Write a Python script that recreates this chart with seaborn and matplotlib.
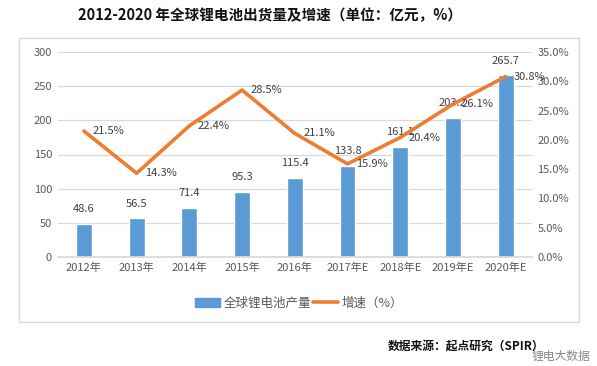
import matplotlib
matplotlib.use("Agg")
import matplotlib.pyplot as plt
import matplotlib.patches as mpatches
from matplotlib.lines import Line2D
import seaborn as sns
import pandas as pd

years = ["2012年", "2013年", "2014年", "2015年", "2016年", "2017年E", "2018年E", "2019年E", "2020年E"]
output = [48.6, 56.5, 71.4, 95.3, 115.4, 133.8, 161.1, 203.2, 265.7]
growth = [21.5, 14.3, 22.4, 28.5, 21.1, 15.9, 20.4, 26.1, 30.8]
left_ticks = [0, 50, 100, 150, 200, 250, 300]
right_ticks = [0, 5, 10, 15, 20, 25, 30, 35]

sns.set_theme(style="white")
plt.rcParams['font.family'] = ['Noto Sans CJK SC', 'DejaVu Sans']

BLUE = "#5B9BD5"
ORANGE = "#ED7D31"
GRAY = "#595959"
GRID = "#D9D9D9"

df = pd.DataFrame({"year": years, "output": output, "growth": growth})

fig = plt.figure(figsize=(5.97, 3.66), dpi=100)
# outer chart box
fig.patches.append(mpatches.Rectangle((19/597, 1-322/366), 560/597, 284/366,
                                      transform=fig.transFigure, fill=False,
                                      edgecolor=GRID, linewidth=1.0))

ax = fig.add_axes([57.6/597, 1-257/366, 474.4/597, 205/366])
sns.barplot(data=df, x="year", y="output", color=BLUE, width=0.3, ax=ax,
            saturation=1, zorder=2)
ax.set_ylim(0, 300)
ax.set_yticks(left_ticks)
ax.set_xlim(-0.5, len(years)-0.5)
ax.grid(axis="y", color=GRID, linewidth=0.9, zorder=0)
ax.set_axisbelow(True)
for s in ax.spines.values():
    s.set_visible(False)
ax.spines["bottom"].set_visible(True)
ax.spines["bottom"].set_color(GRID)
ax.tick_params(axis="both", length=0, labelsize=8, colors=GRAY, pad=4)
ax.set_xlabel("")
ax.set_ylabel("")
for i, v in enumerate(output):
    ax.annotate(f"{v}", (i, v), xytext=(0, 7), textcoords="offset points",
                ha="center", va="bottom", fontsize=8, color="#404040")

ax2 = ax.twinx()
sns.lineplot(data=df, x="year", y="growth", color=ORANGE, linewidth=2.6, ax=ax2,
             sort=False)
ax2.set_ylim(0, 35)
ax2.set_yticks(right_ticks)
ax2.set_yticklabels([f"{t:.1f}%" for t in right_ticks])
for s in ax2.spines.values():
    s.set_visible(False)
ax2.tick_params(axis="both", length=0, labelsize=8, colors=GRAY, pad=4)
ax2.set_ylabel("")
ax2.set_xlabel("")
ax2.set_xlim(-0.5, len(years)-0.5)
for i, v in enumerate(growth):
    ax2.annotate(f"{v}%", (i, v), xytext=(6, 0), textcoords="offset points",
                 ha="left", va="center", fontsize=8, color="#404040")

fig.text(270/597, 1-15/366, "2012-2020 年全球锂电池出货量及增速（单位：亿元，%）",
         ha="center", va="center", fontsize=10.5, fontweight="bold", color="#111111")

handles = [mpatches.Patch(facecolor=BLUE, edgecolor=BLUE),
           Line2D([0], [0], color=ORANGE, linewidth=2.6)]
fig.legend(handles, ["全球锂电池产量", "增速（%）"], loc="center",
           bbox_to_anchor=(299/597, 1-303/366), ncol=2, frameon=False,
           fontsize=9, labelcolor=GRAY, handlelength=2.0, handletextpad=0.3,
           columnspacing=0.2)

fig.text(544/597, 1-347/366, "数据来源：起点研究（SPIR）", ha="right", va="center",
         fontsize=8.5, fontweight="bold", color="#111111")
fig.text(590/597, 1-356/366, "锂电大数据", ha="right", va="center",
         fontsize=8.5, color="#888888")

fig.savefig("out.png", dpi=100)
